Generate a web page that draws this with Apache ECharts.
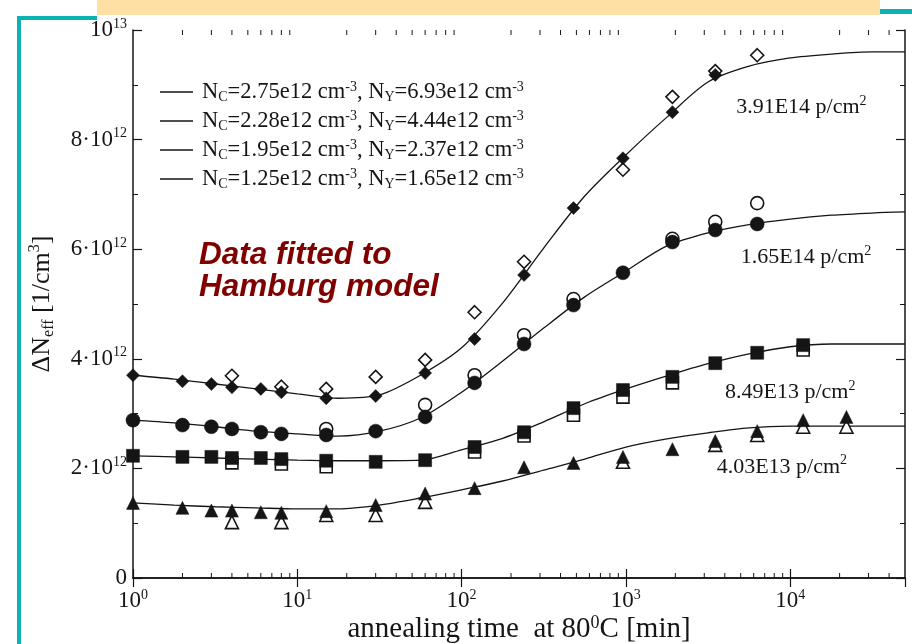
<!DOCTYPE html>
<html>
<head>
<meta charset="utf-8">
<script src="https://cdn.jsdelivr.net/npm/echarts@6/dist/echarts.min.js"></script>
<style>
  html, body { margin: 0; padding: 0; background: #fff; }
  #box { width: 912px; height: 644px; }
</style>
</head>
<body>
<div id="box"></div>
<script>
// annealing times [min] and delta Neff in units of 1e12 / cm^3
var fitTimes = [1, 1.78, 3.16, 5.62, 10, 17.8, 31.6, 56.2, 100, 178, 316, 562, 1000, 1778, 3162, 5623, 10000, 17783, 31623, 50000];
var fitA = [3.70, 3.63, 3.54, 3.45, 3.36, 3.28, 3.34, 3.70, 4.20, 5.02, 6.02, 6.97, 7.72, 8.41, 9.05, 9.34, 9.49, 9.56, 9.60, 9.60];
var fitB = [2.88, 2.83, 2.76, 2.68, 2.63, 2.59, 2.68, 2.92, 3.39, 3.96, 4.56, 5.13, 5.60, 6.06, 6.30, 6.45, 6.55, 6.62, 6.66, 6.68];
var fitC = [2.23, 2.21, 2.19, 2.17, 2.15, 2.14, 2.14, 2.15, 2.34, 2.55, 2.85, 3.18, 3.45, 3.69, 3.91, 4.09, 4.22, 4.27, 4.27, 4.27];
var fitD = [1.37, 1.33, 1.30, 1.28, 1.26, 1.26, 1.33, 1.46, 1.61, 1.77, 1.97, 2.17, 2.39, 2.54, 2.65, 2.74, 2.77, 2.77, 2.77, 2.77];

// 3.91E14 p/cm2 (diamonds)
var tA = [1, 2, 3, 4, 6, 8, 15, 30, 60, 120, 240, 480, 960, 1920, 3500];
var fullA = [3.70, 3.59, 3.54, 3.48, 3.45, 3.39, 3.28, 3.32, 3.74, 4.36, 5.53, 6.75, 7.66, 8.50, 9.18];
var tA2 = [4, 8, 15, 30, 60, 120, 240, 960, 1920, 3500, 6300];
var openA = [3.69, 3.49, 3.45, 3.67, 3.98, 4.85, 5.77, 7.45, 8.78, 9.25, 9.54];

// 1.65E14 p/cm2 (circles)
var tB = [1, 2, 3, 4, 6, 8, 15, 30, 60, 120, 240, 480, 960, 1920, 3500, 6300];
var fullB = [2.88, 2.79, 2.76, 2.72, 2.66, 2.63, 2.61, 2.68, 2.94, 3.56, 4.27, 4.98, 5.57, 6.13, 6.35, 6.46];
var tB2 = [15, 60, 120, 240, 480, 1920, 3500, 6300];
var openB = [2.72, 3.16, 3.70, 4.43, 5.09, 6.19, 6.50, 6.84];

// 8.49E13 p/cm2 (squares)
var tC = [1, 2, 3, 4, 6, 8, 15, 30, 60, 120, 240, 480, 960, 1920, 3500, 6300, 12000];
var fullC = [2.23, 2.21, 2.21, 2.19, 2.19, 2.17, 2.14, 2.12, 2.15, 2.39, 2.66, 3.10, 3.43, 3.67, 3.92, 4.11, 4.25];
var tC2 = [4, 8, 15, 120, 240, 480, 960, 1920, 12000];
var openC = [2.10, 2.08, 2.03, 2.30, 2.59, 2.97, 3.30, 3.56, 4.16];

// 4.03E13 p/cm2 (triangles)
var tD = [1, 2, 3, 4, 6, 8, 15, 30, 60, 120, 240, 480, 960, 1920, 3500, 6300, 12000, 22000];
var fullD = [1.37, 1.28, 1.23, 1.23, 1.20, 1.19, 1.22, 1.33, 1.54, 1.64, 2.02, 2.10, 2.21, 2.35, 2.50, 2.68, 2.88, 2.94];
var tD2 = [4, 8, 15, 30, 60, 960, 3500, 6300, 12000, 22000];
var openD = [1.02, 1.02, 1.15, 1.15, 1.39, 2.12, 2.43, 2.61, 2.76, 2.76];

var legendNames = ['fitA', 'fitB', 'fitC', 'fitD'];
var legendTexts = [
    'N{sub|C}=2.75e12 cm{sup|-3}, N{sub|Y}=6.93e12 cm{sup|-3}',
    'N{sub|C}=2.28e12 cm{sup|-3}, N{sub|Y}=4.44e12 cm{sup|-3}',
    'N{sub|C}=1.95e12 cm{sup|-3}, N{sub|Y}=2.37e12 cm{sup|-3}',
    'N{sub|C}=1.25e12 cm{sup|-3}, N{sub|Y}=1.65e12 cm{sup|-3}'
];

// fluence labels, anchored in data units (time, 1e12/cm3)
var annTexts = ['3.91E14 p/cm{sup|2}', '1.65E14 p/cm{sup|2}', '8.49E13 p/cm{sup|2}', '4.03E13 p/cm{sup|2}'];
var annTime = [11700, 12500, 10000, 8900];
var annValue = [8.59, 5.86, 3.39, 2.03];

var ink = '#151515';
var serif = 'Liberation Serif';

function pairs(ts, vs) {
    var out = [];
    for (var i = 0; i < ts.length; i++) out.push([ts[i], vs[i]]);
    return out;
}

var minorX = [];
[1, 10, 100, 1000, 10000].forEach(function (d) {
    for (var m = 2; m <= 9; m++) {
        if (m * d < 50000) minorX.push([m * d, 0]);
    }
});

function mainRich(size) {
    var s = Math.round(size * 0.62);
    return {
        sup: { fontSize: s, fontFamily: serif, color: ink, verticalAlign: 'top', lineHeight: s },
        sub: { fontSize: s, fontFamily: serif, color: ink, verticalAlign: 'bottom', lineHeight: s }
    };
}

var fits = [fitA, fitB, fitC, fitD];
var series = [];

fits.forEach(function (f, i) {
    series.push({
        name: legendNames[i],
        type: 'line',
        data: pairs(fitTimes, f),
        smooth: 0.3,
        symbol: 'none',
        lineStyle: { color: ink, width: 1.3 },
        itemStyle: { color: ink },
        silent: true,
        z: 2,
        markPoint: {
            symbol: 'circle',
            symbolSize: 0,
            silent: true,
            data: [{ coord: [annTime[i], annValue[i]] }],
            label: {
                show: true,
                position: 'inside',
                formatter: annTexts[i],
                color: ink,
                fontFamily: serif,
                fontSize: 22,
                lineHeight: 26,
                rich: mainRich(22)
            }
        }
    });
});

function scatter(ts, vs, symbol, size, open) {
    return {
        type: 'scatter',
        data: pairs(ts, vs),
        symbol: symbol,
        symbolSize: size,
        silent: true,
        z: open ? 3 : 4,
        itemStyle: open
            ? { color: '#fff', borderColor: ink, borderWidth: 1.6, opacity: 1 }
            : { color: ink, borderColor: ink, borderWidth: 0.5, opacity: 1 }
    };
}

series.push(scatter(tA2, openA, 'diamond', 13, true));
series.push(scatter(tB2, openB, 'circle', 13, true));
series.push(scatter(tC2, openC, 'rect', 12, true));
series.push(scatter(tD2, openD, 'triangle', 13, true));
series.push(scatter(tA, fullA, 'diamond', 13, false));
series.push(scatter(tB, fullB, 'circle', 14, false));
series.push(scatter(tC, fullC, 'rect', 13, false));
series.push(scatter(tD, fullD, 'triangle', 13, false));

// log minor ticks (2..9 per decade) on bottom and top frame
series.push({
    type: 'custom',
    data: minorX,
    silent: true,
    z: 5,
    renderItem: function (params, api) {
        var x = api.coord([api.value(0), 0])[0];
        var r = params.coordSys;
        var st = { stroke: ink, lineWidth: 1 };
        return {
            type: 'group',
            children: [
                { type: 'line', shape: { x1: x, y1: r.y + r.height, x2: x, y2: r.y + r.height - 5 }, style: st },
                { type: 'line', shape: { x1: x, y1: r.y, x2: x, y2: r.y + 5 }, style: st }
            ]
        };
    }
});

var myChart = echarts.init(document.getElementById('box'));

var option = {
    backgroundColor: '#fff',
    animation: false,
    title: {
        text: 'Data fitted to\nHamburg model',
        left: 194,
        top: 234,
        textStyle: {
            color: '#800000',
            fontFamily: 'Liberation Sans',
            fontStyle: 'italic',
            fontWeight: 'bold',
            fontSize: 31.5,
            lineHeight: 32
        }
    },
    legend: {
        data: legendNames,
        orient: 'vertical',
        icon: 'rect',
        left: 155,
        top: 75,
        itemWidth: 33,
        itemHeight: 1.5,
        itemGap: 5,
        selectedMode: false,
        itemStyle: { color: ink },
        formatter: function (name) {
            return legendTexts[legendNames.indexOf(name)];
        },
        textStyle: {
            color: ink,
            fontFamily: serif,
            fontSize: 22.5,
            lineHeight: 24,
            padding: [0, 0, 0, 4],
            rich: mainRich(22.5)
        }
    },
    grid: {
        left: 133,
        right: 7,
        top: 30,
        bottom: 66,
        outerBoundsMode: 'none'
    },
    xAxis: [
        {
            type: 'log',
            logBase: 10,
            min: 1,
            max: 50000,
            name: 'annealing time  at 80{sup|0}C [min]',
            nameLocation: 'middle',
            nameGap: 36,
            nameMoveOverlap: false,
            nameTextStyle: {
                color: ink,
                fontFamily: serif,
                fontSize: 29,
                lineHeight: 30,
                rich: mainRich(29)
            },
            axisLine: { lineStyle: { color: ink, width: 1.5 } },
            axisTick: { inside: true, length: 9, lineStyle: { color: ink, width: 1.2 } },
            splitLine: { show: false },
            axisLabel: {
                margin: 10,
                showMaxLabel: false,
                color: ink,
                fontFamily: serif,
                fontSize: 23,
                lineHeight: 26,
                rich: mainRich(23),
                formatter: function (v) {
                    return '10{sup|' + Math.round(Math.log10(v)) + '}';
                }
            }
        },
        {
            type: 'log',
            logBase: 10,
            min: 1,
            max: 50000,
            position: 'top',
            axisLine: { lineStyle: { color: ink, width: 1.5 } },
            axisTick: { inside: true, length: 9, lineStyle: { color: ink, width: 1.2 } },
            axisLabel: { show: false },
            splitLine: { show: false }
        }
    ],
    yAxis: [
        {
            type: 'value',
            min: 0,
            max: 10,
            interval: 2,
            name: '\u0394N{sub|eff} [1/cm{sup|3}]',
            nameLocation: 'middle',
            nameGap: 76,
            nameRotate: 90,
            nameMoveOverlap: false,
            nameTextStyle: {
                color: ink,
                fontFamily: serif,
                fontSize: 26,
                lineHeight: 30,
                rich: mainRich(26)
            },
            axisLine: { lineStyle: { color: ink, width: 1.5 } },
            axisTick: { inside: true, length: 9, lineStyle: { color: ink, width: 1.2 } },
            minorTick: { show: true, splitNumber: 2, length: 5, lineStyle: { color: ink, width: 1 } },
            splitLine: { show: false },
            axisLabel: {
                margin: 6,
                color: ink,
                fontFamily: serif,
                fontSize: 23,
                lineHeight: 26,
                rich: mainRich(23),
                formatter: function (v) {
                    if (v === 0) return '0';
                    if (v === 10) return '10{sup|13}';
                    return v + '\u00b710{sup|12}';
                }
            }
        },
        {
            type: 'value',
            min: 0,
            max: 10,
            interval: 2,
            position: 'right',
            axisLine: { lineStyle: { color: ink, width: 1.5 } },
            axisTick: { inside: true, length: 9, lineStyle: { color: ink, width: 1.2 } },
            minorTick: { show: true, splitNumber: 2, length: 5, lineStyle: { color: ink, width: 1 } },
            axisLabel: { show: false },
            splitLine: { show: false }
        }
    ],
    graphic: [
        { type: 'rect', shape: { x: 97, y: 0, width: 783, height: 15 }, style: { fill: '#fedfa4' }, silent: true },
        { type: 'rect', shape: { x: 880, y: 9, width: 32, height: 5 }, style: { fill: '#0bb2b2' }, silent: true },
        { type: 'rect', shape: { x: 17, y: 16, width: 80, height: 4 }, style: { fill: '#0bb2b2' }, silent: true },
        { type: 'rect', shape: { x: 17, y: 16, width: 4, height: 628 }, style: { fill: '#0bb2b2' }, silent: true }
    ],
    series: series
};

if (option && typeof option === "object") {
    myChart.setOption(option, true);
}
</script>
</body>
</html>
